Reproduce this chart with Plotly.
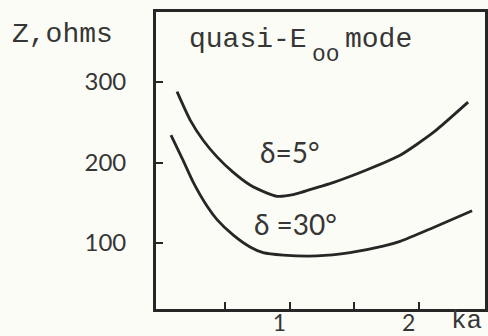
import plotly.graph_objects as go

# Characteristic impedance vs. normalized radius ka for two wedge angles
ka_5 = [0.128, 0.229, 0.329, 0.438, 0.562, 0.694, 0.826, 0.903, 1.027,
        1.236, 1.337, 1.601, 1.857, 2.112, 2.384]
z_5 = [288, 253, 228, 207, 188, 172, 162, 158, 160,
       170, 175, 191, 209, 237, 275]

ka_30 = [0.081, 0.174, 0.252, 0.368, 0.438, 0.562, 0.694, 0.795, 0.950,
         1.213, 1.469, 1.725, 1.857, 2.112, 2.415]
z_30 = [234, 203, 176, 144, 129, 110, 95, 88, 85,
        84, 88, 96, 102, 119, 140]

x_ticks = [0.5, 1, 1.5, 2]
x_ticktext = ["", "1", "", "2"]
y_ticks = [100, 200, 300]

INK = "#262626"
TEXT = "#363636"
PAPER = "#fcfcf7"
MONO = "Liberation Mono"
SANS = "Lato"

fig = go.Figure()
for xs, ys in [(ka_5, z_5), (ka_30, z_30)]:
    fig.add_trace(go.Scatter(
        x=xs, y=ys, mode="lines",
        line=dict(color=INK, width=2.8, shape="spline", smoothing=0.6),
        showlegend=False, hoverinfo="skip",
    ))

fig.update_layout(
    width=488, height=336,
    margin=dict(l=156, r=3, t=12, b=27, autoexpand=False),
    paper_bgcolor=PAPER, plot_bgcolor=PAPER,
    showlegend=False,
)

fig.update_xaxes(
    range=[-0.035, 2.515], automargin=False,
    tickvals=x_ticks, ticktext=x_ticktext,
    ticks="inside", ticklen=7, tickwidth=2, tickcolor=INK,
    ticklabelshift=-10, ticklabelstandoff=-9,
    tickfont=dict(family=SANS, size=23, color=TEXT),
    showline=True, linewidth=2.8, linecolor=INK, mirror=True,
    showgrid=False, zeroline=False,
)
fig.update_yaxes(
    range=[18, 387], automargin=False,
    tickvals=y_ticks,
    ticks="inside", ticklen=7, tickwidth=2, tickcolor=INK,
    ticklabelstandoff=22,
    tickfont=dict(family=SANS, size=24, color=TEXT),
    showline=True, linewidth=2.8, linecolor=INK, mirror=True,
    showgrid=False, zeroline=False,
)

PW, PH = 329.0, 297.0  # plot area size in px


def px(xp):
    return (xp - 156) / PW


def py(yp):
    return 1 - (yp - 12) / PH


annotations = [
    dict(text="Z,ohms", x=px(10), y=py(35), xanchor="left", yanchor="middle",
         font=dict(family=MONO, size=28, color=TEXT)),
    dict(text="quasi-E", x=px(187), y=py(39), xanchor="left", yanchor="middle",
         font=dict(family=MONO, size=28, color=TEXT)),
    dict(text="oo", x=px(310), y=py(55), xanchor="left", yanchor="middle",
         font=dict(family=MONO, size=23, color=TEXT)),
    dict(text="mode", x=px(343), y=py(39), xanchor="left", yanchor="middle",
         font=dict(family=MONO, size=28, color=TEXT)),
    dict(text="ka", x=px(466), y=py(338), xanchor="center", yanchor="bottom",
         font=dict(family=MONO, size=26, color=TEXT)),
]
for a in annotations:
    a.update(xref="paper", yref="paper", showarrow=False)
    fig.add_annotation(**a)

# curve labels in data coordinates
fig.add_annotation(text="δ=5°", x=1.005, y=213, xref="x", yref="y",
                   showarrow=False, font=dict(family=SANS, size=28, color=TEXT))
fig.add_annotation(text="δ =30°", x=1.05, y=124, xref="x", yref="y",
                   showarrow=False, font=dict(family=SANS, size=28, color=TEXT))

fig.write_html("out.html")
